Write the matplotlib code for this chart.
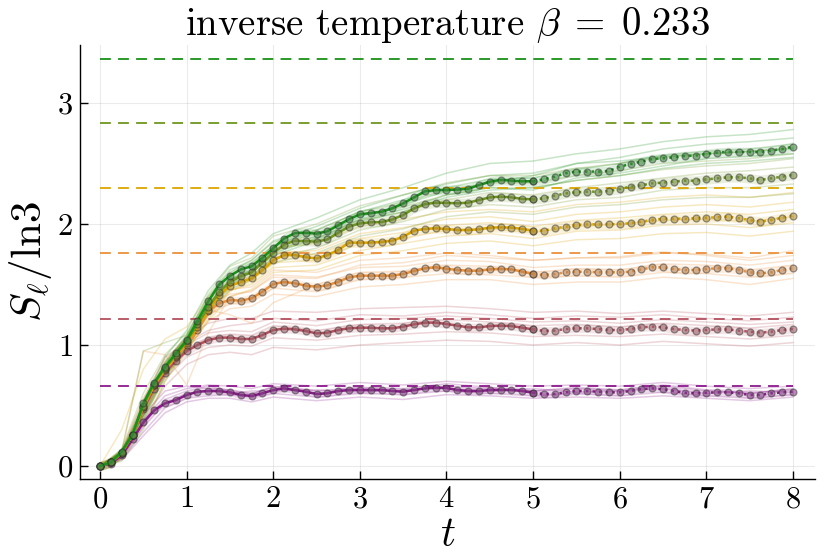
import numpy as np
import matplotlib
matplotlib.use("Agg")
import matplotlib.pyplot as plt
from matplotlib.colors import to_rgb

plt.rcParams.update({
    "font.family": "serif",
    "font.serif": ["cmr10"],
    "mathtext.fontset": "cm",
    "axes.formatter.use_mathtext": True,
})

# time grid of the averaged curves (step 0.125) and of the single runs
t_mean = np.linspace(0, 8, 65)
t_runs = [0, 0.25, 0.5, 0.75, 1.0, 1.25, 1.5, 1.75, 2.0, 2.5, 3.0, 3.5,
          4.0, 4.5, 5.0, 5.5, 6.0, 6.5, 7.0, 7.5, 8.0]

names = ["purple", "red", "orange", "gold", "olive", "green"]
colors = ["#8c1a8c", "#b4505f", "#eb913c", "#dca500", "#6e961e", "#199119"]

# saturation values (dashed lines)
s_page = [0.661, 1.213, 1.760, 2.298, 2.835, 3.364]

# averaged entropy, one row per unit of time
mean_purple = [0.00, 0.02, 0.09, 0.22, 0.36, 0.46, 0.518, 0.545,
               0.587, 0.614, 0.620, 0.620, 0.609, 0.587, 0.579, 0.601,
               0.628, 0.642, 0.628, 0.614, 0.595, 0.601, 0.620, 0.628,
               0.628, 0.628, 0.628, 0.620, 0.614, 0.628, 0.642, 0.648,
               0.645, 0.628, 0.620, 0.620, 0.628, 0.628, 0.628, 0.620,
               0.606, 0.595, 0.595, 0.609, 0.620, 0.620, 0.614, 0.609,
               0.609, 0.620, 0.636, 0.642, 0.634, 0.620, 0.606, 0.601,
               0.606, 0.609, 0.609, 0.601, 0.587, 0.587, 0.601, 0.609,
               0.614]
mean_red = [0.00, 0.03, 0.11, 0.26, 0.47, 0.64, 0.77, 0.87,
            0.95, 1.00, 1.041, 1.061, 1.061, 1.050, 1.050, 1.083,
            1.124, 1.135, 1.129, 1.116, 1.096, 1.102, 1.124, 1.138,
            1.143, 1.143, 1.138, 1.138, 1.152, 1.171, 1.185, 1.185,
            1.174, 1.160, 1.146, 1.146, 1.157, 1.160, 1.157, 1.143,
            1.129, 1.116, 1.119, 1.132, 1.138, 1.138, 1.132, 1.124,
            1.124, 1.132, 1.146, 1.152, 1.146, 1.132, 1.124, 1.119,
            1.124, 1.129, 1.129, 1.119, 1.110, 1.102, 1.110, 1.124,
            1.132]
mean_orange = [0.00, 0.03, 0.11, 0.26, 0.49, 0.67, 0.79, 0.90,
               1.00, 1.12, 1.28, 1.345, 1.372, 1.366, 1.386, 1.441,
               1.504, 1.521, 1.510, 1.490, 1.482, 1.493, 1.523, 1.559,
               1.573, 1.573, 1.573, 1.573, 1.587, 1.612, 1.634, 1.642,
               1.630, 1.620, 1.614, 1.614, 1.625, 1.628, 1.625, 1.606,
               1.587, 1.579, 1.587, 1.601, 1.606, 1.606, 1.601, 1.601,
               1.601, 1.606, 1.625, 1.642, 1.642, 1.628, 1.620, 1.620,
               1.628, 1.634, 1.634, 1.620, 1.601, 1.592, 1.601, 1.620,
               1.634]
mean_gold = [0.00, 0.03, 0.11, 0.26, 0.49, 0.67, 0.80, 0.91,
             1.02, 1.15, 1.29, 1.41, 1.49, 1.52, 1.55, 1.62,
             1.70, 1.744, 1.744, 1.725, 1.716, 1.744, 1.785, 1.846,
             1.846, 1.846, 1.851, 1.862, 1.895, 1.945, 1.959, 1.964,
             1.959, 1.950, 1.950, 1.956, 1.970, 1.972, 1.970, 1.959,
             1.945, 1.945, 1.964, 1.978, 1.992, 1.997, 1.997, 1.997,
             2.000, 2.006, 2.019, 2.033, 2.044, 2.044, 2.044, 2.047,
             2.052, 2.055, 2.061, 2.047, 2.033, 2.019, 2.033, 2.052,
             2.069]
mean_olive = [0.00, 0.03, 0.11, 0.26, 0.50, 0.68, 0.81, 0.92,
              1.03, 1.17, 1.31, 1.44, 1.52, 1.57, 1.60, 1.68,
              1.76, 1.83, 1.862, 1.859, 1.854, 1.873, 1.928, 1.978,
              2.005, 2.014, 2.016, 2.038, 2.074, 2.129, 2.165, 2.176,
              2.174, 2.171, 2.176, 2.198, 2.220, 2.226, 2.220, 2.207,
              2.204, 2.212, 2.234, 2.253, 2.262, 2.267, 2.267, 2.273,
              2.289, 2.309, 2.320, 2.336, 2.342, 2.350, 2.358, 2.358,
              2.369, 2.377, 2.386, 2.386, 2.377, 2.364, 2.377, 2.391,
              2.405]
mean_green = [0.00, 0.03, 0.12, 0.26, 0.52, 0.69, 0.82, 0.93,
              1.04, 1.20, 1.36, 1.50, 1.57, 1.625, 1.65, 1.72,
              1.80, 1.88, 1.925, 1.928, 1.92, 1.94, 1.99, 2.04,
              2.08, 2.09, 2.10, 2.13, 2.17, 2.22, 2.27, 2.28,
              2.281, 2.284, 2.29, 2.322, 2.35, 2.364, 2.358, 2.353,
              2.353, 2.369, 2.391, 2.419, 2.433, 2.433, 2.433, 2.438,
              2.474, 2.496, 2.515, 2.537, 2.543, 2.551, 2.562, 2.565,
              2.579, 2.590, 2.595, 2.595, 2.595, 2.595, 2.606, 2.620,
              2.639]

# single runs (sampled on t_runs)
runs_purple = [
    [0, 0.09, 0.38, 0.58, 0.64, 0.67, 0.66, 0.64, 0.68, 0.66, 0.69, 0.67, 0.70, 0.68, 0.66, 0.67, 0.66, 0.69, 0.66, 0.64, 0.66],
    [0, 0.05, 0.25, 0.44, 0.53, 0.56, 0.56, 0.53, 0.57, 0.54, 0.57, 0.55, 0.59, 0.58, 0.56, 0.57, 0.56, 0.58, 0.56, 0.54, 0.57],
    [0, 0.08, 0.35, 0.55, 0.62, 0.66, 0.62, 0.59, 0.66, 0.62, 0.65, 0.64, 0.68, 0.65, 0.62, 0.65, 0.63, 0.67, 0.63, 0.60, 0.64],
    [0, 0.06, 0.28, 0.48, 0.56, 0.58, 0.59, 0.57, 0.60, 0.57, 0.60, 0.59, 0.62, 0.60, 0.58, 0.60, 0.58, 0.61, 0.58, 0.56, 0.59],
    [0, 0.10, 0.42, 0.62, 0.66, 0.64, 0.63, 0.60, 0.65, 0.60, 0.64, 0.62, 0.66, 0.64, 0.62, 0.64, 0.62, 0.66, 0.62, 0.60, 0.63],
    [0, 0.07, 0.32, 0.52, 0.60, 0.62, 0.60, 0.62, 0.62, 0.63, 0.61, 0.63, 0.64, 0.62, 0.64, 0.61, 0.62, 0.64, 0.60, 0.62, 0.61],
]
runs_red = [
    [0, 0.11, 0.50, 0.86, 1.06, 1.18, 1.22, 1.22, 1.28, 1.27, 1.30, 1.31, 1.32, 1.30, 1.27, 1.28, 1.26, 1.28, 1.26, 1.24, 1.27],
    [0, 0.08, 0.38, 0.66, 0.84, 0.92, 0.94, 0.92, 0.98, 0.96, 1.00, 1.02, 1.04, 1.03, 1.00, 1.02, 1.00, 1.03, 1.01, 0.99, 1.02],
    [0, 0.10, 0.46, 0.80, 1.00, 1.10, 1.12, 1.11, 1.19, 1.16, 1.21, 1.22, 1.24, 1.22, 1.19, 1.20, 1.18, 1.21, 1.19, 1.17, 1.19],
    [0, 0.09, 0.42, 0.72, 0.90, 0.98, 1.00, 0.99, 1.06, 1.04, 1.08, 1.09, 1.11, 1.10, 1.07, 1.08, 1.07, 1.09, 1.07, 1.05, 1.08],
    [0, 0.10, 0.45, 0.78, 0.97, 1.06, 1.09, 1.08, 1.16, 1.12, 1.17, 1.18, 1.21, 1.19, 1.16, 1.17, 1.15, 1.18, 1.16, 1.14, 1.17],
    [0, 0.12, 0.55, 0.90, 1.02, 1.12, 1.16, 1.18, 1.22, 1.20, 1.25, 1.24, 1.27, 1.25, 1.22, 1.24, 1.23, 1.25, 1.22, 1.20, 1.23],
]
runs_orange = [
    [0, 0.12, 0.95, 0.92, 0.67, 1.10, 1.40, 1.45, 1.56, 1.55, 1.66, 1.68, 1.74, 1.72, 1.70, 1.72, 1.72, 1.76, 1.75, 1.72, 1.78],
    [0, 0.08, 0.42, 0.75, 0.95, 1.20, 1.30, 1.32, 1.42, 1.40, 1.48, 1.50, 1.54, 1.54, 1.50, 1.52, 1.52, 1.56, 1.54, 1.50, 1.55],
    [0, 0.11, 0.50, 0.84, 1.05, 1.33, 1.42, 1.44, 1.58, 1.56, 1.64, 1.65, 1.70, 1.69, 1.64, 1.66, 1.66, 1.70, 1.69, 1.66, 1.70],
    [0, 0.09, 0.44, 0.77, 0.98, 1.25, 1.34, 1.36, 1.47, 1.44, 1.54, 1.56, 1.59, 1.58, 1.56, 1.57, 1.56, 1.60, 1.59, 1.56, 1.59],
    [0, 0.10, 0.47, 0.80, 1.01, 1.29, 1.25, 1.18, 1.35, 1.50, 1.60, 1.61, 1.66, 1.65, 1.60, 1.63, 1.62, 1.67, 1.66, 1.62, 1.66],
    [0, 0.13, 0.56, 0.88, 1.06, 1.36, 1.46, 1.48, 1.62, 1.60, 1.70, 1.72, 1.76, 1.74, 1.70, 1.72, 1.73, 1.77, 1.74, 1.70, 1.74],
]
runs_gold = [
    [0, 0.30, 0.80, 1.05, 1.15, 1.40, 1.58, 1.66, 1.80, 1.84, 1.98, 2.04, 2.10, 2.12, 2.10, 2.16, 2.18, 2.22, 2.24, 2.22, 2.26],
    [0, 0.08, 0.40, 0.74, 0.96, 1.20, 1.40, 1.46, 1.60, 1.62, 1.74, 1.78, 1.84, 1.86, 1.82, 1.87, 1.88, 1.92, 1.93, 1.90, 1.94],
    [0, 0.11, 0.49, 0.84, 1.06, 1.34, 1.54, 1.60, 1.76, 1.78, 1.92, 1.97, 2.04, 2.06, 2.02, 2.08, 2.10, 2.14, 2.16, 2.14, 2.18],
    [0, 0.09, 0.44, 0.78, 1.00, 1.25, 1.45, 1.50, 1.64, 1.66, 1.78, 1.84, 1.90, 1.92, 1.88, 1.94, 1.95, 1.99, 2.00, 1.97, 2.01],
    [0, 0.10, 0.46, 0.81, 1.03, 1.30, 1.50, 1.57, 1.72, 1.75, 1.88, 1.93, 1.99, 2.01, 1.98, 2.03, 2.05, 2.08, 2.10, 2.08, 2.12],
    [0, 0.06, 0.34, 0.70, 0.95, 1.22, 1.44, 1.54, 1.68, 1.70, 1.84, 1.88, 1.95, 1.96, 1.93, 1.98, 2.00, 2.03, 2.04, 2.02, 2.06],
]
runs_olive = [
    [0, 0.12, 0.95, 1.02, 1.08, 1.42, 1.65, 1.72, 1.90, 2.00, 2.15, 2.24, 2.34, 2.40, 2.40, 2.46, 2.50, 2.55, 2.58, 2.60, 2.63],
    [0, 0.09, 0.42, 0.78, 0.98, 1.25, 1.46, 1.54, 1.68, 1.76, 1.90, 1.96, 2.06, 2.10, 2.08, 2.14, 2.16, 2.20, 2.22, 2.22, 2.25],
    [0, 0.11, 0.50, 0.86, 1.08, 1.36, 1.58, 1.66, 1.82, 1.92, 2.08, 2.14, 2.24, 2.30, 2.30, 2.36, 2.40, 2.45, 2.48, 2.50, 2.54],
    [0, 0.04, 0.30, 0.70, 0.98, 1.27, 1.48, 1.56, 1.72, 1.80, 1.95, 2.02, 2.12, 2.16, 2.14, 2.20, 2.22, 2.28, 2.30, 2.30, 2.33],
    [0, 0.10, 0.47, 0.82, 1.04, 1.33, 1.54, 1.62, 1.78, 1.88, 2.03, 2.10, 2.20, 2.26, 2.24, 2.30, 2.34, 2.38, 2.42, 2.44, 2.47],
    [0, 0.14, 0.60, 0.92, 1.10, 1.38, 1.60, 1.70, 1.85, 1.95, 2.10, 2.18, 2.28, 2.34, 2.34, 2.40, 2.44, 2.50, 2.52, 2.54, 2.58],
]
runs_green = [
    [0, 0.12, 0.52, 0.90, 1.12, 1.45, 1.66, 1.76, 1.92, 2.05, 2.20, 2.30, 2.42, 2.50, 2.52, 2.58, 2.62, 2.68, 2.72, 2.74, 2.78],
    [0, 0.09, 0.42, 0.78, 1.00, 1.30, 1.52, 1.60, 1.74, 1.86, 2.02, 2.10, 2.22, 2.28, 2.30, 2.36, 2.40, 2.46, 2.50, 2.52, 2.55],
    [0, 0.11, 0.48, 0.85, 1.08, 1.40, 1.62, 1.70, 1.86, 1.98, 2.13, 2.24, 2.33, 2.40, 2.42, 2.50, 2.55, 2.62, 2.66, 2.68, 2.71],
    [0, 0.08, 0.40, 0.76, 0.98, 1.32, 1.54, 1.62, 1.76, 1.88, 2.04, 2.12, 2.24, 2.30, 2.28, 2.38, 2.42, 2.48, 2.54, 2.56, 2.58],
    [0, 0.10, 0.47, 0.84, 1.06, 1.38, 1.58, 1.68, 1.82, 1.95, 2.10, 2.20, 2.30, 2.37, 2.38, 2.45, 2.50, 2.57, 2.60, 2.62, 2.66],
    [0, 0.07, 0.38, 0.74, 0.96, 1.28, 1.50, 1.60, 1.78, 1.90, 2.06, 2.16, 2.27, 2.34, 2.40, 2.50, 2.52, 2.56, 2.58, 2.60, 2.62],
]

# half width of the error ribbon around each mean
err = [0.03, 0.035, 0.035, 0.04, 0.04, 0.04]

means = [mean_purple, mean_red, mean_orange, mean_gold, mean_olive, mean_green]
runs = [runs_purple, runs_red, runs_orange, runs_gold, runs_olive, runs_green]
t_split = 5.0

fig = plt.figure(figsize=(8.3, 5.54), dpi=100)
ax = fig.add_axes([0.0964, 0.1354, 0.8855, 0.7834])

for c, m, rr, e, s in zip(colors, means, runs, err, s_page):
    m = np.array(m)
    for r in rr:
        ax.plot(t_runs, r, color=c, alpha=0.24, lw=1.1, zorder=2)
    ax.fill_between(t_mean, m - e, m + e, color=c, alpha=0.15, lw=0, zorder=2)
    ax.hlines(s, t_mean[0], t_mean[-1], color=c, lw=1.3,
              linestyles=(0, (6, 4)), zorder=3)
    rgb = np.array(to_rgb(c))
    face = tuple(0.55 * rgb + 0.45 * 0.45) + (0.6,)
    mk = dict(marker="o", ms=5, mfc=face, mec=(0.15, 0.15, 0.15, 0.45), mew=0.9)
    early = t_mean <= t_split
    late = t_mean >= t_split
    ax.plot(t_mean[early], m[early], color=c, lw=1.8, zorder=4, **mk)
    ax.plot(t_mean[late], m[late], color=c, lw=1.8, ls=":", zorder=4, **mk)

ax.set_xlim(-0.231, 8.254)
ax.set_ylim(-0.107, 3.479)
ax.set_xticks(range(0, 9))
ax.set_yticks(range(0, 4))
ax.grid(True, color="k", alpha=0.08, lw=0.8)
ax.set_axisbelow(True)
for side in ("top", "right"):
    ax.spines[side].set_visible(False)
for side in ("left", "bottom"):
    ax.spines[side].set_linewidth(1.0)
ax.tick_params(direction="in", length=6, width=1, labelsize=22, pad=5)

ax.set_title(r"inverse temperature $\beta\;=\;0.233$", fontsize=28, pad=6)
ax.set_xlabel(r"$t$", fontsize=30, labelpad=2)
ax.set_ylabel(r"$S_\ell/\mathrm{ln}3$", fontsize=31, labelpad=2)

fig.savefig("out.png", dpi=100)
